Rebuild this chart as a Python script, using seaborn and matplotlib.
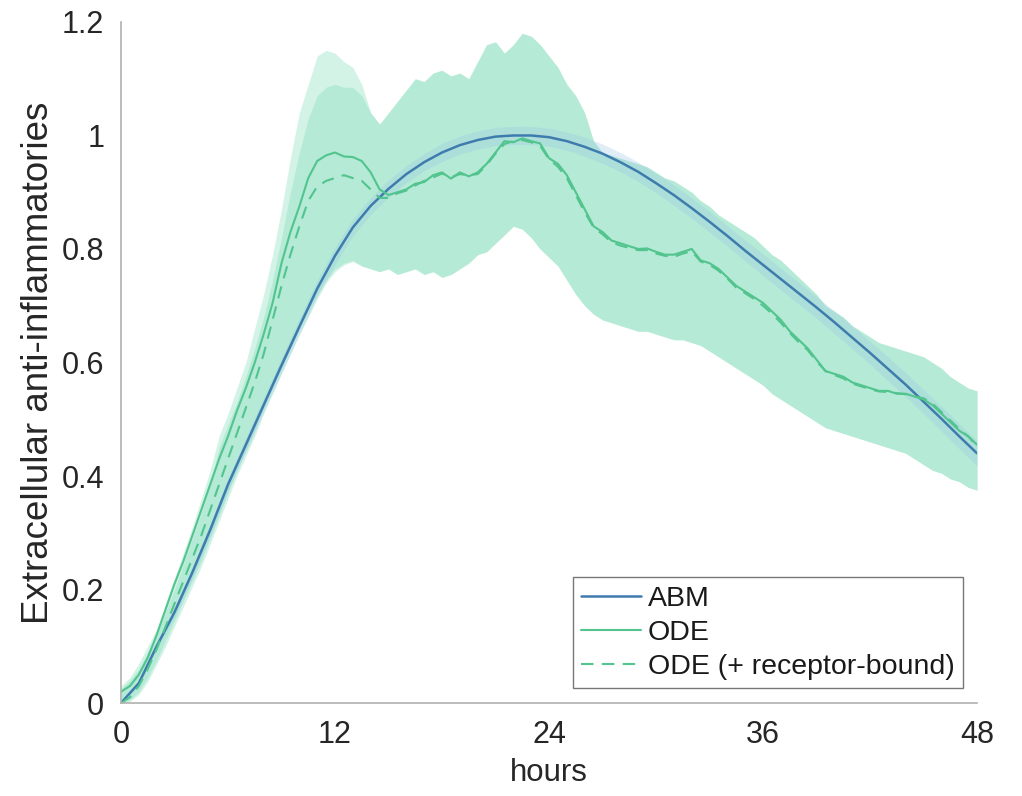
import numpy as np
import pandas as pd
import matplotlib
matplotlib.use("Agg")
import matplotlib.pyplot as plt
import seaborn as sns

# ---------------- data ----------------
hours_abm = list(range(0, 49))
abm_mean = [0.000, 0.035, 0.100, 0.160, 0.230, 0.305, 0.385, 0.455, 0.525, 0.595,
            0.663, 0.730, 0.788, 0.838, 0.876, 0.906, 0.932, 0.953, 0.970, 0.983,
            0.992, 0.998, 1.000, 1.000, 0.997, 0.990, 0.980, 0.968, 0.953, 0.936,
            0.916, 0.895, 0.872, 0.848, 0.823, 0.797, 0.772, 0.747, 0.722, 0.697,
            0.671, 0.644, 0.617, 0.589, 0.561, 0.531, 0.501, 0.470, 0.440]
abm_spread = [0.000, 0.004, 0.006, 0.008, 0.009, 0.010, 0.011, 0.012, 0.013, 0.013,
              0.014, 0.014, 0.015, 0.015, 0.015, 0.015, 0.015, 0.015, 0.016, 0.016,
              0.016, 0.016, 0.016, 0.016, 0.016, 0.016, 0.017, 0.017, 0.017, 0.017,
              0.017, 0.018, 0.018, 0.018, 0.018, 0.018, 0.019, 0.019, 0.019, 0.019,
              0.020, 0.020, 0.020, 0.021, 0.021, 0.021, 0.022, 0.022, 0.022]

hours_ode = [i * 0.5 for i in range(97)]
ode_mean = [0.020, 0.030, 0.050, 0.080, 0.120, 0.165, 0.210, 0.250, 0.295, 0.340,
            0.385, 0.430, 0.470, 0.515, 0.555, 0.600, 0.650, 0.705, 0.775, 0.830,
            0.875, 0.925, 0.955, 0.965, 0.970, 0.963, 0.962, 0.955, 0.935, 0.905,
            0.895, 0.900, 0.905, 0.915, 0.918, 0.930, 0.935, 0.924, 0.935, 0.928,
            0.935, 0.950, 0.970, 0.990, 0.988, 0.995, 0.990, 0.986, 0.960, 0.950,
            0.930, 0.900, 0.870, 0.840, 0.830, 0.815, 0.810, 0.805, 0.800, 0.801,
            0.795, 0.790, 0.790, 0.795, 0.800, 0.780, 0.775, 0.765, 0.750, 0.735,
            0.725, 0.715, 0.705, 0.690, 0.675, 0.655, 0.640, 0.625, 0.605, 0.585,
            0.580, 0.575, 0.565, 0.560, 0.555, 0.550, 0.550, 0.545, 0.545, 0.540,
            0.535, 0.525, 0.510, 0.495, 0.480, 0.470, 0.455]
ode_rb_mean = [0.000, 0.010, 0.030, 0.060, 0.095, 0.135, 0.175, 0.215, 0.255, 0.295,
               0.340, 0.385, 0.430, 0.475, 0.520, 0.565, 0.615, 0.675, 0.735, 0.790,
               0.840, 0.885, 0.910, 0.920, 0.925, 0.930, 0.925, 0.920, 0.905, 0.890,
               0.890, 0.898, 0.903, 0.912, 0.920, 0.926, 0.933, 0.926, 0.932, 0.930,
               0.932, 0.948, 0.968, 0.985, 0.990, 0.992, 0.988, 0.982, 0.958, 0.945,
               0.925, 0.895, 0.865, 0.838, 0.826, 0.812, 0.806, 0.802, 0.798, 0.798,
               0.792, 0.788, 0.786, 0.792, 0.796, 0.778, 0.772, 0.762, 0.748, 0.732,
               0.722, 0.712, 0.700, 0.686, 0.670, 0.652, 0.636, 0.622, 0.602, 0.585,
               0.578, 0.572, 0.563, 0.558, 0.553, 0.549, 0.548, 0.546, 0.544, 0.540,
               0.537, 0.528, 0.513, 0.498, 0.483, 0.470, 0.452]
ode_upper = [0.030, 0.045, 0.070, 0.100, 0.130, 0.175, 0.220, 0.265, 0.310, 0.360,
             0.410, 0.470, 0.510, 0.555, 0.600, 0.660, 0.720, 0.790, 0.870, 0.960,
             1.040, 1.090, 1.140, 1.150, 1.145, 1.130, 1.120, 1.090, 1.040, 1.020,
             1.040, 1.060, 1.080, 1.100, 1.095, 1.110, 1.115, 1.105, 1.110, 1.100,
             1.130, 1.160, 1.165, 1.145, 1.160, 1.180, 1.175, 1.160, 1.140, 1.120,
             1.090, 1.070, 1.040, 0.990, 0.970, 0.965, 0.960, 0.955, 0.950, 0.945,
             0.935, 0.925, 0.920, 0.910, 0.900, 0.885, 0.875, 0.860, 0.850, 0.840,
             0.830, 0.820, 0.805, 0.790, 0.780, 0.765, 0.750, 0.735, 0.720, 0.700,
             0.690, 0.680, 0.665, 0.655, 0.645, 0.635, 0.630, 0.625, 0.620, 0.615,
             0.610, 0.600, 0.590, 0.575, 0.565, 0.555, 0.550]
ode_lower = [0.000, 0.005, 0.020, 0.045, 0.075, 0.110, 0.145, 0.180, 0.215, 0.250,
             0.290, 0.330, 0.370, 0.410, 0.445, 0.480, 0.520, 0.555, 0.590, 0.625,
             0.660, 0.690, 0.720, 0.745, 0.765, 0.775, 0.780, 0.770, 0.765, 0.760,
             0.765, 0.755, 0.760, 0.765, 0.755, 0.760, 0.750, 0.755, 0.765, 0.775,
             0.790, 0.795, 0.810, 0.825, 0.840, 0.835, 0.820, 0.800, 0.785, 0.770,
             0.745, 0.720, 0.700, 0.685, 0.675, 0.670, 0.665, 0.660, 0.655, 0.655,
             0.650, 0.645, 0.640, 0.640, 0.635, 0.630, 0.620, 0.610, 0.600, 0.590,
             0.580, 0.570, 0.560, 0.545, 0.535, 0.525, 0.515, 0.505, 0.495, 0.485,
             0.480, 0.475, 0.470, 0.465, 0.460, 0.455, 0.450, 0.445, 0.440, 0.430,
             0.420, 0.410, 0.405, 0.395, 0.390, 0.380, 0.375]
ode_rb_upper = [0.025, 0.040, 0.060, 0.090, 0.120, 0.160, 0.200, 0.245, 0.290, 0.335,
                0.385, 0.450, 0.490, 0.530, 0.575, 0.625, 0.680, 0.745, 0.820, 0.900,
                0.970, 1.030, 1.070, 1.085, 1.090, 1.085, 1.085, 1.070, 1.040, 1.020,
                1.040, 1.060, 1.080, 1.100, 1.095, 1.110, 1.115, 1.105, 1.110, 1.100,
                1.130, 1.160, 1.165, 1.145, 1.160, 1.180, 1.175, 1.160, 1.140, 1.120,
                1.090, 1.070, 1.040, 0.990, 0.970, 0.965, 0.960, 0.955, 0.950, 0.945,
                0.935, 0.925, 0.920, 0.910, 0.900, 0.885, 0.875, 0.860, 0.850, 0.840,
                0.830, 0.820, 0.805, 0.790, 0.780, 0.765, 0.750, 0.735, 0.720, 0.700,
                0.690, 0.680, 0.665, 0.655, 0.645, 0.635, 0.630, 0.625, 0.620, 0.615,
                0.610, 0.600, 0.590, 0.575, 0.565, 0.555, 0.550]
ode_rb_lower = [0.000, 0.003, 0.015, 0.038, 0.068, 0.100, 0.135, 0.170, 0.205, 0.240,
                0.280, 0.320, 0.360, 0.400, 0.435, 0.470, 0.510, 0.545, 0.580, 0.615,
                0.650, 0.680, 0.712, 0.740, 0.760, 0.772, 0.778, 0.770, 0.765, 0.760,
                0.765, 0.755, 0.760, 0.765, 0.755, 0.760, 0.750, 0.755, 0.765, 0.775,
                0.790, 0.795, 0.810, 0.825, 0.840, 0.835, 0.820, 0.800, 0.785, 0.770,
                0.745, 0.720, 0.700, 0.685, 0.675, 0.670, 0.665, 0.660, 0.655, 0.655,
                0.650, 0.645, 0.640, 0.640, 0.635, 0.630, 0.620, 0.610, 0.600, 0.590,
                0.580, 0.570, 0.560, 0.545, 0.535, 0.525, 0.515, 0.505, 0.495, 0.485,
                0.480, 0.475, 0.470, 0.465, 0.460, 0.455, 0.450, 0.445, 0.440, 0.430,
                0.420, 0.410, 0.405, 0.395, 0.390, 0.380, 0.375]

series_labels = ["ABM", "ODE", "ODE (+ receptor-bound)"]
x_ticks = [0, 12, 24, 36, 48]
y_ticks = [0, 0.2, 0.4, 0.6, 0.8, 1.0, 1.2]
y_tick_labels = ["0", "0.2", "0.4", "0.6", "0.8", "1", "1.2"]

for arr in (ode_mean, ode_rb_mean, ode_upper, ode_lower, ode_rb_upper, ode_rb_lower):
    assert len(arr) == len(hours_ode), len(arr)
assert len(abm_mean) == len(hours_abm) == len(abm_spread)

# ---------------- style ----------------
sns.set_style("white")
plt.rcParams["font.family"] = ["Liberation Sans", "DejaVu Sans"]

ABM_C = "#3f7cae"
ABM_BAND = "#9cc6e4"
ODE_C = "#52c48d"
BAND_C = "#6ed8b1"
TXT = "#262626"

fig = plt.figure(figsize=(10.22, 7.96), dpi=100)
ax = fig.add_axes([0.1184, 0.1168, 0.8376, 0.8556])

abm_lo = [m - s for m, s in zip(abm_mean, abm_spread)]
abm_hi = [m + s for m, s in zip(abm_mean, abm_spread)]

ax.fill_between(hours_ode, ode_lower, ode_upper, color=BAND_C, alpha=0.30, lw=0)
ax.fill_between(hours_ode, ode_rb_lower, ode_rb_upper, color=BAND_C, alpha=0.30, lw=0)
ax.fill_between(hours_abm, abm_lo, abm_hi, color=ABM_BAND, alpha=0.30, lw=0)

df_abm = pd.DataFrame({"hours": hours_abm, "value": abm_mean})
df_ode = pd.DataFrame({"hours": hours_ode, "value": ode_mean})
df_rb = pd.DataFrame({"hours": hours_ode, "value": ode_rb_mean})

sns.lineplot(data=df_abm, x="hours", y="value", ax=ax, color=ABM_C, lw=1.8,
             label=series_labels[0])
sns.lineplot(data=df_ode, x="hours", y="value", ax=ax, color=ODE_C, lw=1.5,
             label=series_labels[1])
sns.lineplot(data=df_rb, x="hours", y="value", ax=ax, color=ODE_C, lw=1.5,
             label=series_labels[2], dashes=False)
ax.lines[-1].set_dashes([6, 4])

ax.set_xlim(0, 48)
ax.set_ylim(0, 1.2)
ax.set_xticks(x_ticks)
ax.set_xticklabels([str(v) for v in x_ticks])
ax.set_yticks(y_ticks)
ax.set_yticklabels(y_tick_labels)

for side in ("top", "right"):
    ax.spines[side].set_visible(False)
for side in ("left", "bottom"):
    ax.spines[side].set_color("#b0b0b0")
    ax.spines[side].set_linewidth(1.2)

ax.tick_params(axis="both", direction="in", length=6, width=1.0, color="#9a9a9a",
               labelsize=22, labelcolor=TXT)
ax.tick_params(axis="y", pad=12)
ax.tick_params(axis="x", pad=12)
ax.set_xlabel("hours", fontsize=22.5, color=TXT, labelpad=6)
ax.set_ylabel("Extracellular anti-inflammatories", fontsize=26.5, color=TXT,
              labelpad=4)

leg = ax.legend(loc="lower right", bbox_to_anchor=(0.984, 0.022), fontsize=20.5,
                frameon=True, fancybox=False, handlelength=2.1, handletextpad=0.25,
                labelspacing=0.28, borderpad=0.3, borderaxespad=0)
leg.get_frame().set_edgecolor("#555555")
leg.get_frame().set_linewidth(1.0)
for t in leg.get_texts():
    t.set_color("#1a1a1a")

fig.savefig("out.png", dpi=100)
